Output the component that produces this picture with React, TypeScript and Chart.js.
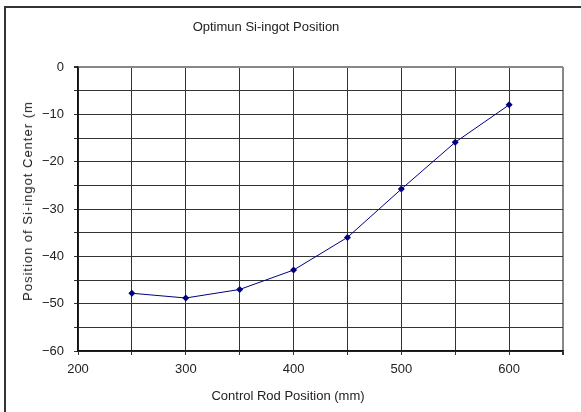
import React, { useEffect, useRef } from "react";
import { Chart, registerables } from "chart.js";

Chart.register(...registerables);

const titleText = "Optimun Si-ingot Position";
const xTitle = "Control Rod Position (mm)";
const yTitle = "Position of Si-ingot Center (m";
const rodPositions = [250, 300, 350, 400, 450, 500, 550, 600];
const ingotCenters = [-47.8, -48.8, -47, -42.9, -36, -25.8, -15.9, -8];
const xMin = 200, xMax = 650, xStep = 50, xLabelStep = 100;
const yMin = -60, yMax = 0, yStep = 5, yLabelStep = 10;

const FONT = "'Liberation Sans', Arial, sans-serif";

const textStyle: React.CSSProperties = {
  position: "absolute",
  fontFamily: FONT,
  color: "#222",
  whiteSpace: "nowrap",
  lineHeight: "16px",
};

export default function App() {
  const ref = useRef<HTMLCanvasElement>(null);
  useEffect(() => {
    if (!ref.current) return;
    const chart = new Chart(ref.current, {
      type: "line",
      data: {
        datasets: [
          {
            data: rodPositions.map((x, i) => ({ x, y: ingotCenters[i] })),
            borderColor: "#000080",
            backgroundColor: "#000080",
            borderWidth: 1,
            pointStyle: "rectRot",
            pointRadius: 3.5,
            pointBorderWidth: 0,
            tension: 0,
          },
        ],
      },
      options: {
        responsive: false,
        animation: false,
        layout: { padding: { left: 0, right: 18, top: 67, bottom: 0 } },
        plugins: {
          legend: { display: false },
          tooltip: { enabled: false },
          title: { display: false },
        },
        scales: {
          x: {
            type: "linear",
            min: xMin,
            max: xMax,
            afterFit: (s: any) => { s.height = 61; },
            ticks: {
              stepSize: xStep,
              autoSkip: false,
              maxRotation: 0,
              padding: 7,
              color: "#222",
              font: { family: FONT, size: 13 },
              callback: (v: any) => (Number(v) % xLabelStep === 0 && Number(v) !== xMax ? String(v) : ""),
            },
            grid: {
              color: (c: any) => (c.tick && c.tick.value === xMax ? "#888" : "#333"),
              lineWidth: (c: any) => (c.tick && c.tick.value === xMax ? 2 : 1),
              tickLength: 4,
              tickColor: "#333",
            },
            border: { color: "#111", width: 1.5 },
          },
          y: {
            type: "linear",
            min: yMin,
            max: yMax,
            afterFit: (s: any) => { s.width = 78; },
            ticks: {
              stepSize: yStep,
              autoSkip: false,
              padding: 10,
              color: "#222",
              font: { family: FONT, size: 13 },
              callback: (v: any) => {
                const n = Number(v);
                if (n % yLabelStep !== 0) return "";
                return n < 0 ? "\u2212" + Math.abs(n) : String(n);
              },
            },
            grid: {
              color: (c: any) => (c.tick && c.tick.value === yMax ? "#888" : "#333"),
              lineWidth: (c: any) => (c.tick && c.tick.value === yMax ? 2 : 1),
              tickLength: 4,
              tickColor: "#333",
            },
            border: { color: "#111", width: 1.5 },
          },
        },
      },
    });
    return () => chart.destroy();
  }, []);
  return (
    <div style={{ position: "fixed", left: 0, top: 0, width: 581, height: 412, background: "#fff", overflow: "hidden" }}>
      <div
        style={{
          position: "absolute",
          left: 4,
          top: 6,
          right: -4,
          bottom: -4,
          borderLeft: "2px solid #333",
          borderTop: "2px solid #333",
        }}
      />
      <canvas ref={ref} width={581} height={412} style={{ position: "absolute", left: 0, top: 0 }} />
      <div style={{ ...textStyle, fontSize: 13, left: 266, top: 19, transform: "translateX(-50%)" }}>{titleText}</div>
      <div style={{ ...textStyle, fontSize: 13, left: 288, top: 388, transform: "translateX(-50%)" }}>{xTitle}</div>
      <div
        style={{
          ...textStyle,
          fontSize: 13,
          letterSpacing: "1px",
          left: 28,
          top: 201,
          transform: "translate(-50%, -50%) rotate(-90deg)",
        }}
      >
        {yTitle}
      </div>
    </div>
  );
}
